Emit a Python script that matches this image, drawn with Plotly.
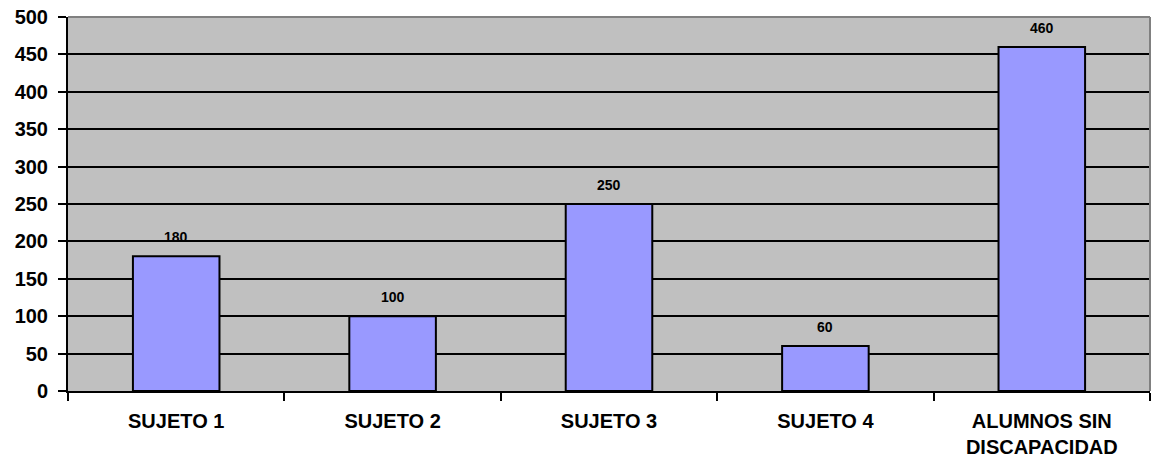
import plotly.graph_objects as go

categories = ["SUJETO 1", "SUJETO 2", "SUJETO 3", "SUJETO 4", "ALUMNOS SIN<br>DISCAPACIDAD"]
values = [180, 100, 250, 60, 460]
y_ticks = [0, 50, 100, 150, 200, 250, 300, 350, 400, 450, 500]

FONT = "Liberation Sans, Arial, sans-serif"

fig = go.Figure()
fig.add_trace(go.Bar(
    x=categories, y=values,
    marker=dict(color="#9999FF", line=dict(color="black", width=2)),
    width=0.4,
    hoverinfo="skip",
))

for c, v in zip(categories, values):
    fig.add_annotation(x=c, y=v, text=f"<b>{v}</b>", showarrow=False,
                       yshift=19, font=dict(family=FONT, size=14, color="black"))

fig.update_layout(
    width=1152, height=465,
    margin=dict(l=68, r=2, t=17, b=74),
    paper_bgcolor="white",
    plot_bgcolor="#C0C0C0",
    showlegend=False,
    font=dict(family=FONT, color="black"),
    bargap=0.6,
)

fig.update_xaxes(
    type="category",
    tickson="boundaries",
    ticks="outside", ticklen=8, tickwidth=2, tickcolor="black",
    tickfont=dict(family=FONT, size=20, color="black", weight="bold"),
    showline=True, linecolor="black", linewidth=2,
    showgrid=False,
    ticklabelstandoff=11,
)
fig.update_yaxes(
    range=[0, 500],
    tickvals=y_ticks,
    ticks="outside", ticklen=8, tickwidth=2, tickcolor="black",
    tickfont=dict(family=FONT, size=20, color="black", weight="bold"),
    showline=True, linecolor="black", linewidth=2,
    showgrid=True, gridcolor="black", gridwidth=2,
    zeroline=False,
    ticklabelstandoff=6,
)

fig.add_shape(type="line", xref="paper", yref="paper", x0=0, x1=1, y0=1, y1=1,
              line=dict(color="#808080", width=2))
fig.add_shape(type="line", xref="paper", yref="paper", x0=1, x1=1, y0=0, y1=1,
              line=dict(color="#808080", width=2))

fig.write_html("out.html")
